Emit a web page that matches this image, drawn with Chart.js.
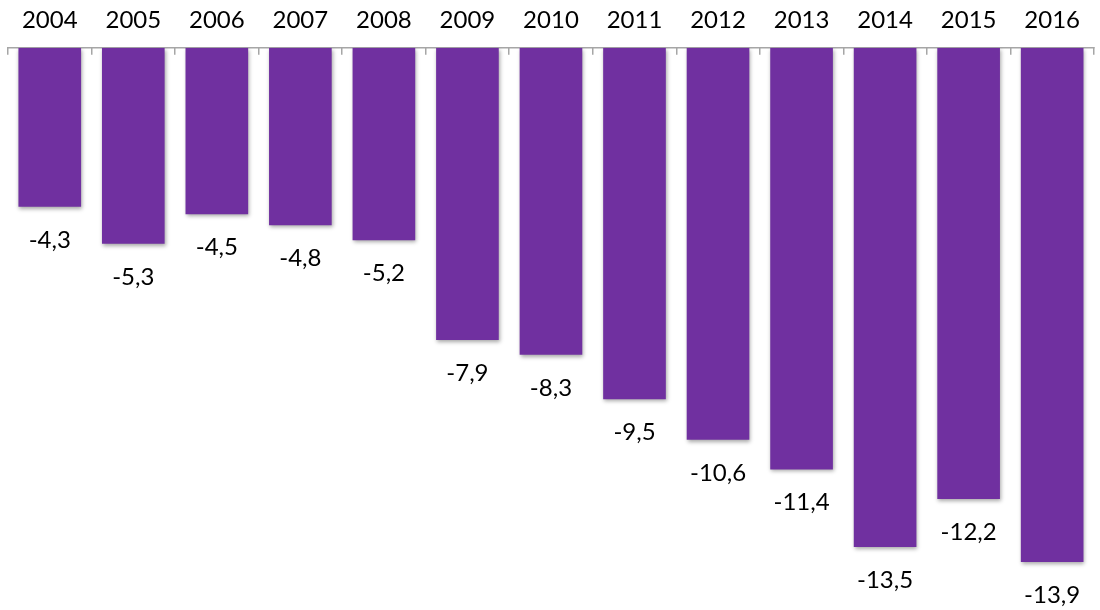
<!DOCTYPE html>
<html>
<head>
<meta charset="utf-8">
<script src="https://cdn.jsdelivr.net/npm/chart.js@4.4.1/dist/chart.umd.min.js"></script>
<style>
  html, body { margin: 0; padding: 0; background: #fff; }
  #wrap { width: 1100px; height: 610px; }
</style>
</head>
<body>
<div id="wrap"><canvas id="chart"></canvas></div>
<script>
const anos = ["2004", "2005", "2006", "2007", "2008", "2009", "2010", "2011", "2012", "2013", "2014", "2015", "2016"];
const valores = [-4.3, -5.3, -4.5, -4.8, -5.2, -7.9, -8.3, -9.5, -10.6, -11.4, -13.5, -12.2, -13.9];
const yMin = -15.2;
const yMax = 0;

const fonte = "Lato, 'Open Sans', sans-serif";

// sombra leve nas barras
const sombra = {
    id: "sombra",
    beforeDatasetDraw(chart) {
        const ctx = chart.ctx;
        ctx.save();
        ctx.shadowColor = "rgba(0,0,0,0.35)";
        ctx.shadowBlur = 4;
        ctx.shadowOffsetX = 1;
        ctx.shadowOffsetY = 2;
    },
    afterDatasetDraw(chart) {
        chart.ctx.restore();
    },
};

// rótulos abaixo de cada barra
const rotulos = {
    id: "rotulos",
    afterDatasetsDraw(chart) {
        const ctx = chart.ctx;
        const meta = chart.getDatasetMeta(0);
        ctx.save();
        ctx.font = "24px " + fonte;
        ctx.fillStyle = "#000";
        ctx.textAlign = "center";
        ctx.textBaseline = "middle";
        meta.data.forEach((bar, i) => {
            const texto = valores[i].toFixed(1).replace(".", ",");
            ctx.fillText(texto, bar.x, bar.y + 33);
        });
        ctx.restore();
    },
};

new Chart(document.getElementById("chart"), {
    type: "bar",
    data: {
        labels: anos,
        datasets: [
            {
                data: valores,
                backgroundColor: "#7030A0",
                barPercentage: 0.75,
                categoryPercentage: 1,
            },
        ],
    },
    options: {
        responsive: true,
        maintainAspectRatio: false,
        animation: false,
        layout: { padding: { left: 8, right: 0, top: -14, bottom: 0 } },
        plugins: {
            legend: { display: false },
            tooltip: { enabled: false },
        },
        scales: {
            x: {
                position: "top",
                grid: {
                    drawOnChartArea: false,
                    drawTicks: true,
                    tickLength: -7,
                    offset: true,
                    color: "#a6a6a6",
                    lineWidth: 1.5,
                },
                border: { color: "#a6a6a6", width: 1.5 },
                ticks: {
                    color: "#000",
                    font: { family: fonte, size: 24 },
                    padding: 20,
                    maxRotation: 0,
                },
            },
            y: {
                display: false,
                min: yMin,
                max: yMax,
            },
        },
    },
    plugins: [sombra, rotulos],
});
</script>
</body>
</html>
